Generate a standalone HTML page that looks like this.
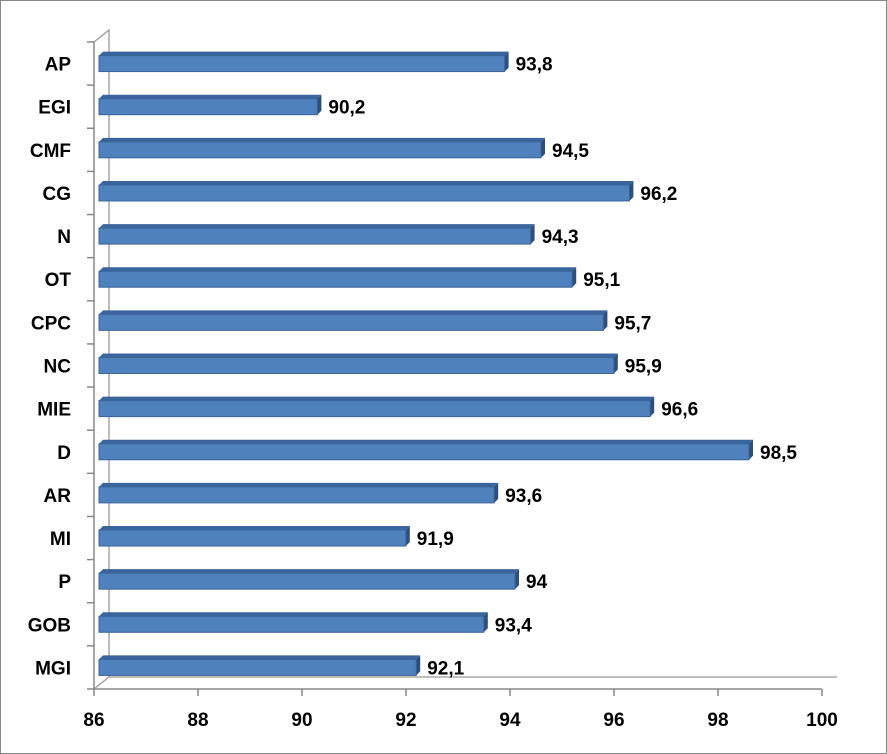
<!DOCTYPE html>
<html><head><meta charset="utf-8"><style>
body{margin:0;background:#fff}
svg{display:block;font-family:"Liberation Sans",Arial,sans-serif}
</style></head><body>
<svg id="chart" width="887" height="754">
<rect x="0.5" y="0.5" width="886" height="753" fill="#fff" stroke="#888"/>
<g id="axes"></g><g id="bars"></g>
</svg>
<script>
const categories=["AP","EGI","CMF","CG","N","OT","CPC","NC","MIE","D","AR","MI","P","GOB","MGI"];
const values=[93.8,90.2,94.5,96.2,94.3,95.1,95.7,95.9,96.6,98.5,93.6,91.9,94,93.4,92.1];
const valueLabels=["93,8","90,2","94,5","96,2","94,3","95,1","95,7","95,9","96,6","98,5","93,6","91,9","94","93,4","92,1"];
const ticks=[86,88,90,92,94,96,98,100];
const NS="http://www.w3.org/2000/svg";
const xMin=86,xMax=100,x0=94,x1=822,yTop=42,yBot=689,dx=15,dy=-12;
const xs=v=>x0+(v-xMin)/(xMax-xMin)*(x1-x0);
const band=(yBot-yTop)/categories.length;
const yc=i=>yTop+band*(i+0.5);
function mk(tag,attrs,parent){const e=document.createElementNS(NS,tag);for(const k in attrs)e.setAttribute(k,attrs[k]);parent.appendChild(e);return e;}
const ax=document.getElementById('axes'),bg=document.getElementById('bars');
// walls
const wall=mk('path',{d:`M${x0},${yTop}L${x0+dx},${yTop+dy}L${x0+dx},${yBot+dy}L${x1+dx},${yBot+dy} M${x0},${yBot}L${x0+dx},${yBot+dy}`,fill:'none',stroke:'#999','stroke-width':1.3},ax);


const ya=mk('line',{x1:x0,y1:yTop,x2:x0,y2:yBot,stroke:'#888','stroke-width':1.5},ax);


const xa=mk('line',{x1:x0,y1:yBot,x2:x1,y2:yBot,stroke:'#888','stroke-width':1.5},ax);


for(let k=0;k<=categories.length;k++){const y=yTop+band*k;const t=mk('line',{x1:x0-7,y1:y,x2:x0,y2:y,stroke:'#888','stroke-width':1.5},ax);

}
ticks.forEach(v=>{const x=xs(v);const t=mk('line',{x1:x,y1:yBot,x2:x,y2:yBot+7,stroke:'#888','stroke-width':1.5},ax);


const l=mk('text',{x:x,y:726,'text-anchor':'middle','font-size':19,'font-weight':'bold',fill:'#000'},ax);l.textContent=v;

});
categories.forEach((c,i)=>{const y=yc(i);
const l=mk('text',{x:71,y:y+7,'text-anchor':'end','font-size':19,'font-weight':'bold',fill:'#000'},ax);l.textContent=c;


const g=mk('g',{},bg);


const xa0=x0+5,xe=xs(values[i])+5,yt=y-8,yb=y+8,d=4;
mk('path',{d:`M${xa0},${yt}L${xa0+d},${yt-d}L${xe+d},${yt-d}L${xe},${yt}Z`,fill:'#3a649c'},g);
mk('path',{d:`M${xe},${yt}L${xe+d},${yt-d}L${xe+d},${yb-d}L${xe},${yb}Z`,fill:'#2c4f7f'},g);
mk('rect',{x:xa0,y:yt,width:xe-xa0,height:yb-yt,fill:'#4f81bd',stroke:'#3b659a','stroke-width':1},g);
const v=mk('text',{x:xe+11,y:y+7,'font-size':19,'font-weight':'bold',fill:'#000'},g);v.textContent=valueLabels[i];


});
</script>
</body></html>
